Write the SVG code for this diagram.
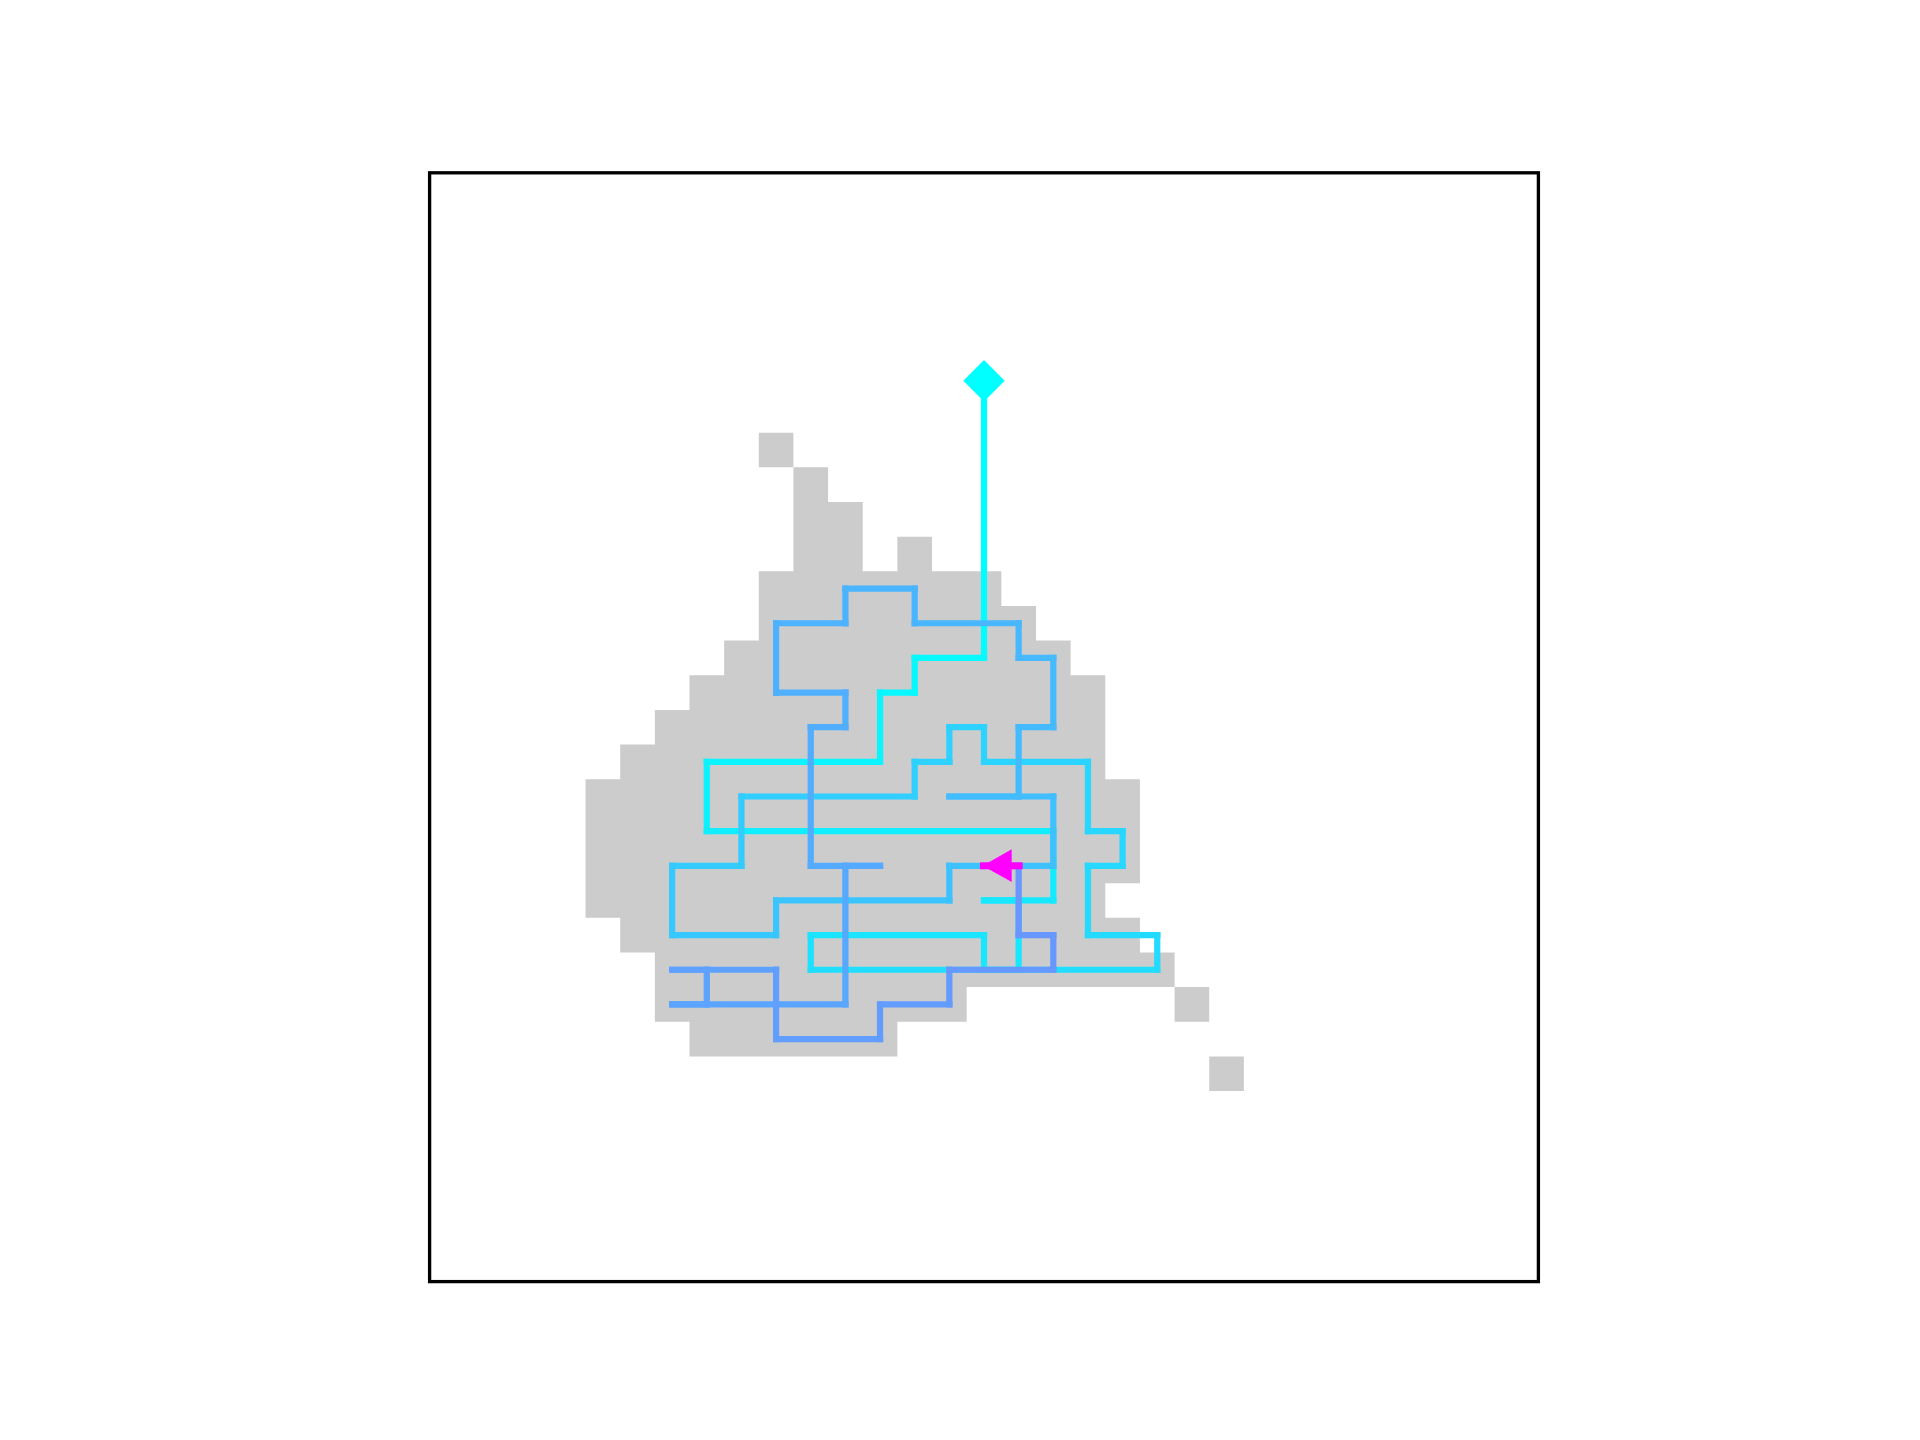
<svg xmlns="http://www.w3.org/2000/svg" width="1920" height="1440" viewBox="0 0 1920 1440">
<style>
.seg{fill:none;stroke-width:0.18;stroke-linecap:square;stroke-linejoin:miter}
.cells{fill:#cccccc;stroke:none}
.frame{fill:none;stroke:#000000;stroke-width:3.33}
</style>
<rect x="0" y="0" width="1920" height="1440" fill="#ffffff"/>
<g id="plot" transform="translate(429.6 172.8) scale(34.65)">
<g id="grid">
<path class="cells" d="M9.5 7.5h1v1h-1z M10.5 8.5h1v1h-1z M10.5 9.5h2v1h-2z M10.5 10.5h2v1h-2z M13.5 10.5h1v1h-1z M9.5 11.5h7v1h-7z M9.5 12.5h8v1h-8z M8.5 13.5h10v1h-10z M7.5 14.5h12v1h-12z M6.5 15.5h13v1h-13z M5.5 16.5h14v1h-14z M4.5 17.5h16v3h-16z M4.5 20.5h15v1h-15z M5.5 21.5h15v1h-15z M6.5 22.5h15v1h-15z M6.5 23.5h9v1h-9z M21.5 23.5h1v1h-1z M7.5 24.5h6v1h-6z M22.5 25.5h1v1h-1z"/>
</g>
<g id="connectors">
<path class="seg" stroke="#03fcff" d="M16 6V14"/>
<path class="seg" stroke="#06f9ff" d="M16 14H14"/>
<path class="seg" stroke="#07f8ff" d="M14 14V15"/>
<path class="seg" stroke="#07f8ff" d="M14 15H13"/>
<path class="seg" stroke="#08f7ff" d="M13 15V17"/>
<path class="seg" stroke="#0bf4ff" d="M13 17H8"/>
<path class="seg" stroke="#0df2ff" d="M8 17V19"/>
<path class="seg" stroke="#11eeff" d="M8 19H18"/>
<path class="seg" stroke="#14ebff" d="M18 19V21"/>
<path class="seg" stroke="#16e9ff" d="M18 21H16"/>
<path class="seg" stroke="#17e8ff" d="M16 21H17"/>
<path class="seg" stroke="#18e7ff" d="M17 21V23"/>
<path class="seg" stroke="#19e6ff" d="M17 23H16"/>
<path class="seg" stroke="#19e6ff" d="M16 23V22"/>
<path class="seg" stroke="#1be4ff" d="M16 22H11"/>
<path class="seg" stroke="#1de2ff" d="M11 22V23"/>
<path class="seg" stroke="#21deff" d="M11 23H21"/>
<path class="seg" stroke="#24dbff" d="M21 23V22"/>
<path class="seg" stroke="#25daff" d="M21 22H19"/>
<path class="seg" stroke="#26d9ff" d="M19 22V20"/>
<path class="seg" stroke="#27d8ff" d="M19 20H20"/>
<path class="seg" stroke="#28d7ff" d="M20 20V19"/>
<path class="seg" stroke="#28d7ff" d="M20 19H19"/>
<path class="seg" stroke="#29d6ff" d="M19 19V17"/>
<path class="seg" stroke="#2bd4ff" d="M19 17H16"/>
<path class="seg" stroke="#2cd3ff" d="M16 17V16"/>
<path class="seg" stroke="#2dd2ff" d="M16 16H15"/>
<path class="seg" stroke="#2ed1ff" d="M15 16V17"/>
<path class="seg" stroke="#2ed1ff" d="M15 17H14"/>
<path class="seg" stroke="#2fd0ff" d="M14 17V18"/>
<path class="seg" stroke="#31ceff" d="M14 18H9"/>
<path class="seg" stroke="#33ccff" d="M9 18V20"/>
<path class="seg" stroke="#34cbff" d="M9 20H7"/>
<path class="seg" stroke="#36c9ff" d="M7 20V22"/>
<path class="seg" stroke="#37c8ff" d="M7 22H10"/>
<path class="seg" stroke="#39c6ff" d="M10 22V21"/>
<path class="seg" stroke="#3ac5ff" d="M10 21H15"/>
<path class="seg" stroke="#3cc3ff" d="M15 21V20"/>
<path class="seg" stroke="#3ec1ff" d="M15 20H18"/>
<path class="seg" stroke="#3fc0ff" d="M18 20V18"/>
<path class="seg" stroke="#41beff" d="M18 18H15"/>
<path class="seg" stroke="#42bdff" d="M15 18H17"/>
<path class="seg" stroke="#44bbff" d="M17 18V16"/>
<path class="seg" stroke="#45baff" d="M17 16H18"/>
<path class="seg" stroke="#45baff" d="M18 16V14"/>
<path class="seg" stroke="#46b9ff" d="M18 14H17"/>
<path class="seg" stroke="#47b8ff" d="M17 14V13"/>
<path class="seg" stroke="#48b7ff" d="M17 13H14"/>
<path class="seg" stroke="#4ab5ff" d="M14 13V12"/>
<path class="seg" stroke="#4bb4ff" d="M14 12H12"/>
<path class="seg" stroke="#4cb3ff" d="M12 12V13"/>
<path class="seg" stroke="#4db2ff" d="M12 13H10"/>
<path class="seg" stroke="#4eb1ff" d="M10 13V15"/>
<path class="seg" stroke="#4fb0ff" d="M10 15H12"/>
<path class="seg" stroke="#50afff" d="M12 15V16"/>
<path class="seg" stroke="#51aeff" d="M12 16H11"/>
<path class="seg" stroke="#52adff" d="M11 16V20"/>
<path class="seg" stroke="#54abff" d="M11 20H13"/>
<path class="seg" stroke="#55aaff" d="M13 20H12"/>
<path class="seg" stroke="#57a8ff" d="M12 20V24"/>
<path class="seg" stroke="#5aa5ff" d="M12 24H7"/>
<path class="seg" stroke="#5ba4ff" d="M7 24H8"/>
<path class="seg" stroke="#5ca3ff" d="M8 24V23"/>
<path class="seg" stroke="#5da2ff" d="M8 23H7"/>
<path class="seg" stroke="#5ea1ff" d="M7 23H10"/>
<path class="seg" stroke="#609fff" d="M10 23V25"/>
<path class="seg" stroke="#619eff" d="M10 25H13"/>
<path class="seg" stroke="#639cff" d="M13 25V24"/>
<path class="seg" stroke="#639cff" d="M13 24H15"/>
<path class="seg" stroke="#649bff" d="M15 24V23"/>
<path class="seg" stroke="#6699ff" d="M15 23H18"/>
<path class="seg" stroke="#6798ff" d="M18 23V22"/>
<path class="seg" stroke="#6897ff" d="M18 22H17"/>
<path class="seg" stroke="#6996ff" d="M17 22V20"/>
</g>
</g>
<g id="start">
<polygon points="984,360 1004.7,380.7 984,401.4 963.3,380.7" fill="#00ffff"/>
</g>
<g id="end">
<rect x="980" y="862.3" width="42.7" height="7" fill="#ff00ff"/>
<polygon points="982.7,865.7 1011.7,849.3 1011.7,882" fill="#ff00ff"/>
</g>
<rect class="frame" x="429.6" y="172.8" width="1108.8" height="1108.8"/>
</svg>
